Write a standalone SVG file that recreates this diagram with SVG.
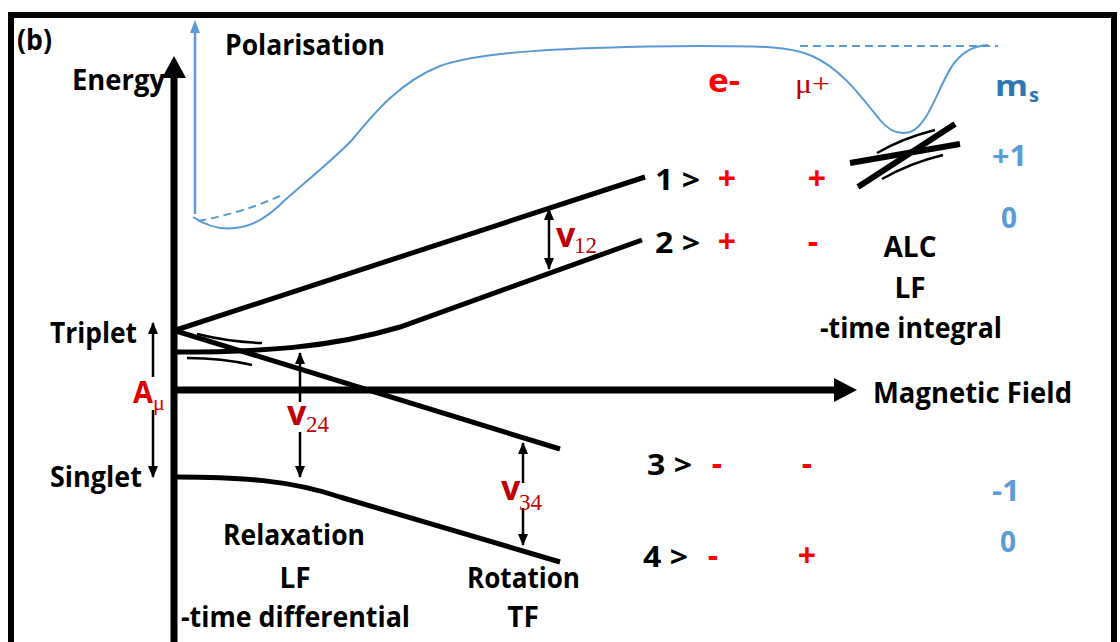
<svg xmlns="http://www.w3.org/2000/svg" width="1120" height="642" viewBox="0 0 1120 642">
<defs>
<style>
.t{font-family:"Open Sans","Liberation Sans",sans-serif;font-weight:700;font-size:28px;fill:#000}
.red{fill:#ff0000}
.sg{font-size:32px}
.dred{fill:#c00000}
.blue{fill:#5b9bd5}
.ser{font-family:"Liberation Serif",serif;font-weight:400}
.lvl{fill:none;stroke:#000;stroke-width:5;stroke-linecap:butt}
.thin{fill:none;stroke:#000;stroke-width:2.5}
.arr{stroke:#000;stroke-width:2.5;marker-end:url(#ah)}
.bl{fill:none;stroke:#5b9bd5;stroke-width:2}
.bld{fill:none;stroke:#5b9bd5;stroke-width:2;stroke-dasharray:8 5}
</style>
<marker id="ah" viewBox="0 0 12 10" markerWidth="12" markerHeight="10" refX="11" refY="5" orient="auto-start-reverse" markerUnits="userSpaceOnUse">
<path d="M0,0 L12,5 L0,10 z" fill="#000"/>
</marker>
</defs>
<rect x="0" y="0" width="1120" height="642" fill="#fff"/>
<rect id="frame" x="11" y="15" width="1103" height="700" fill="none" stroke="#000" stroke-width="6"/>

<g id="axes">
<line x1="174" y1="75" x2="174" y2="642" stroke="#000" stroke-width="7"/>
<polygon points="162,78 174,56 186,78" fill="#000"/>
<line x1="174" y1="390" x2="838" y2="390" stroke="#000" stroke-width="7"/>
<polygon points="834,378 857,390 834,402" fill="#000"/>
</g>

<g id="polarisation">
<line x1="195" y1="214" x2="195" y2="30" stroke="#5b9bd5" stroke-width="2.5"/>
<polygon points="190,33 195,20 200,33" fill="#5b9bd5"/>
<path class="bl" d="M193,217 C205,225 220,230 235,228 C255,226 270,215 285,200 C310,178 335,158 352,140 C375,112 400,82 440,66 C480,52 560,47 700,46 C760,46 790,46 812,56 C840,68 860,95 880,120 C890,132 900,135 910,132 C930,125 940,80 955,62 C965,50 975,46 988,45"/>
<path class="bld" d="M198,221 C230,215 255,207 280,196"/>
<line class="bld" x1="800" y1="46" x2="998" y2="46"/>
</g>

<g id="levels">
<path id="level1" class="lvl" d="M176,330 L645,177"/>
<path id="level2" class="lvl" d="M176,352 C260,352 330,348 400,327 L642,240"/>
<path id="level3" class="lvl" d="M176,331 L560,449"/>
<path id="level4" class="lvl" d="M176,477 C240,477 290,480 340,497 L560,562"/>
<path class="thin" d="M197,334 Q230,342 262,343"/>
<path class="thin" d="M187,358 Q222,358 252,365"/>
</g>

<g id="alc-crossing">
<line x1="850" y1="163" x2="960" y2="144" stroke="#000" stroke-width="6"/>
<line x1="858" y1="187" x2="955" y2="124" stroke="#000" stroke-width="6"/>
<path class="thin" d="M877,153 Q903,138 935,130"/>
<path class="thin" d="M882,179 Q910,163 943,155"/>
</g>

<g id="connectors">
<line class="arr" x1="153" y1="377" x2="153" y2="323"/>
<line class="arr" x1="153" y1="410" x2="153" y2="477"/>
<line class="arr" x1="300" y1="402" x2="300" y2="353"/>
<line class="arr" x1="300" y1="432" x2="300" y2="477"/>
<line class="arr" x1="523" y1="483" x2="523" y2="443"/>
<line class="arr" x1="523" y1="508" x2="523" y2="545"/>
<line class="arr" x1="549" y1="238" x2="549" y2="209"/>
<line class="arr" x1="549" y1="238" x2="549" y2="269"/>
</g>

<g id="labels-left">
<text class="t" x="17" y="50" textLength="35" lengthAdjust="spacingAndGlyphs">(b)</text>
<text class="t" x="225" y="55" textLength="160" lengthAdjust="spacingAndGlyphs">Polarisation</text>
<text class="t" x="72" y="90" textLength="93" lengthAdjust="spacingAndGlyphs">Energy</text>
<text class="t" x="50" y="343" textLength="87" lengthAdjust="spacingAndGlyphs">Triplet</text>
<text class="t" x="50" y="487" textLength="92" lengthAdjust="spacingAndGlyphs">Singlet</text>
<text class="t" x="133" y="403" style="font-size:30px;fill:#e00000" textLength="20" lengthAdjust="spacingAndGlyphs">A</text>
<text class="t ser" x="153" y="410" style="font-size:22px;fill:#e00000">μ</text>
</g>

<g id="gap-labels">
<text class="t dred" x="287" y="425" style="font-size:34px">v</text>
<text class="t ser dred" x="306" y="432" style="font-size:23px">24</text>
<text class="t dred" x="501" y="500" style="font-size:34px">v</text>
<text class="t ser dred" x="519" y="510" style="font-size:23px">34</text>
<text class="t dred" x="556" y="247" style="font-size:34px">v</text>
<text class="t ser dred" x="574" y="253" style="font-size:23px">12</text>
</g>

<g id="state-labels">
<text class="t red" x="708" y="92" style="font-size:33px" textLength="32" lengthAdjust="spacingAndGlyphs">e-</text>
<text class="t ser dred" x="795" y="93" style="font-size:28px" textLength="35" lengthAdjust="spacingAndGlyphs">μ+</text>
<text class="t" x="655" y="190" textLength="45" lengthAdjust="spacingAndGlyphs">1 &gt;</text>
<text class="t red sg" x="727" y="190" text-anchor="middle">+</text>
<text class="t red sg" x="817" y="190" text-anchor="middle">+</text>
<text class="t" x="655" y="253" textLength="45" lengthAdjust="spacingAndGlyphs">2 &gt;</text>
<text class="t red sg" x="727" y="253" text-anchor="middle">+</text>
<text class="t red sg" x="813" y="253" text-anchor="middle">-</text>
<text class="t" x="647" y="475" textLength="45" lengthAdjust="spacingAndGlyphs">3 &gt;</text>
<text class="t red sg" x="717" y="475" text-anchor="middle">-</text>
<text class="t red sg" x="807" y="475" text-anchor="middle">-</text>
<text class="t" x="643" y="567" textLength="45" lengthAdjust="spacingAndGlyphs">4 &gt;</text>
<text class="t red sg" x="713" y="567" text-anchor="middle">-</text>
<text class="t red sg" x="807" y="567" text-anchor="middle">+</text>
</g>

<g id="ms-labels">
<text class="t" x="995" y="96" style="font-size:28px;fill:#2e75b6" textLength="33" lengthAdjust="spacingAndGlyphs">m</text>
<text class="t" x="1029" y="102" style="font-size:20px;fill:#2e75b6">s</text>
<text class="t blue" x="992" y="166" textLength="35" lengthAdjust="spacingAndGlyphs">+1</text>
<text class="t blue" x="1009" y="228" text-anchor="middle">0</text>
<text class="t blue" x="992" y="501" textLength="28" lengthAdjust="spacingAndGlyphs">-1</text>
<text class="t blue" x="1008" y="552" text-anchor="middle">0</text>
</g>

<g id="alc-label">
<text class="t" x="910" y="257" text-anchor="middle">ALC</text>
<text class="t" x="910" y="298" text-anchor="middle">LF</text>
<text class="t" x="820" y="338" textLength="182" lengthAdjust="spacingAndGlyphs">-time integral</text>
</g>

<g id="field-label">
<text class="t" x="873" y="403" textLength="199" lengthAdjust="spacingAndGlyphs">Magnetic Field</text>
</g>

<g id="relaxation-label">
<text class="t" x="223" y="545" textLength="142" lengthAdjust="spacingAndGlyphs">Relaxation</text>
<text class="t" x="295" y="588" text-anchor="middle">LF</text>
<text class="t" x="181" y="627" textLength="229" lengthAdjust="spacingAndGlyphs">-time differential</text>
</g>

<g id="rotation-label">
<text class="t" x="467" y="588" textLength="113" lengthAdjust="spacingAndGlyphs">Rotation</text>
<text class="t" x="523" y="627" text-anchor="middle">TF</text>
</g>
</svg>
